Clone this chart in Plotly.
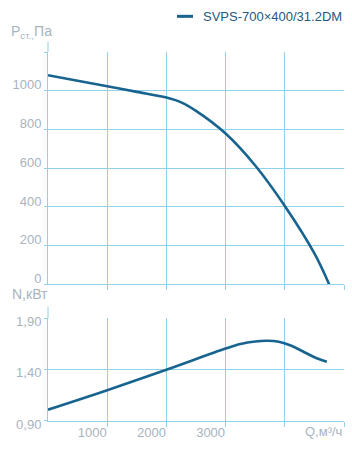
import plotly.graph_objects as go

# ---- data ----
series_name = "SVPS-700×400/31.2DM"
q_pressure = [0, 500, 1000, 1500, 2000, 2250, 2500, 3000, 3500, 4000, 4500, 4750]
p_static = [1080, 1052, 1023, 994, 965, 940, 896, 779, 614, 405, 160, 0]

q_power = [0, 1000, 2000, 3000, 3250, 3500, 3700, 3900, 4100, 4300, 4500, 4710]
n_power = [1.01, 1.20, 1.40, 1.606, 1.650, 1.675, 1.682, 1.672, 1.636, 1.58, 1.522, 1.477]

p_ticks = [0, 200, 400, 600, 800, 1000]
p_ticktext = ["0", "200", "400", "600", "800", "1000"]
p_extra_grid = [1200]
n_ticks = [0.9, 1.4, 1.9]
n_ticktext = ["0,90", "1,40", "1,90"]
q_ticks = [1000, 2000, 3000]
q_ticktext = ["1000", "2000", "3000"]
q_extra_grid = [4000, 5000]
q_axis_title = "Q,м³/ч"

# ---- style ----
FONT = "Liberation Sans"
GRID = "#8fd0ea"
TICKC = "#a7b4c0"
CURVE = "#18648f"
LEGTXT = "#245a80"

fig = go.Figure()
fig.add_trace(go.Scatter(x=q_pressure, y=p_static, mode="lines",
                         line=dict(color=CURVE, width=2.6, shape="spline", smoothing=1.0),
                         name=series_name, xaxis="x", yaxis="y", showlegend=False))
fig.add_trace(go.Scatter(x=q_power, y=n_power, mode="lines",
                         line=dict(color=CURVE, width=2.6, shape="spline", smoothing=1.0),
                         name=series_name, xaxis="x2", yaxis="y2", showlegend=False))

top_dom = [0.3701, 1.0]
bot_dom = [0.0, 0.278]

xcommon = dict(range=[0, 5000], showgrid=True, gridcolor=GRID, gridwidth=1,
               showline=True, linecolor=GRID, linewidth=1, ticks="outside", ticklen=5, tickcolor=GRID,
               zeroline=False, fixedrange=True,
               minor=dict(tickvals=q_extra_grid, showgrid=True, gridcolor=GRID, gridwidth=1,
                          ticks="outside", ticklen=5, tickcolor=GRID))
ycommon = dict(showgrid=True, gridcolor=GRID, gridwidth=1, showline=True, linecolor=GRID, linewidth=1,
               ticks="outside", ticklen=3, tickcolor=GRID, zeroline=False, fixedrange=True,
               tickfont=dict(family=FONT, size=13, color=TICKC))

fig.update_layout(
    width=352, height=451,
    margin=dict(l=48, r=8, t=52, b=30, pad=0),
    paper_bgcolor="white", plot_bgcolor="white",
    font=dict(family=FONT, size=13, color=TICKC),
    xaxis=dict(xcommon, anchor="y", tickvals=[1000, 2000, 3000], showticklabels=False),
    yaxis=dict(ycommon, domain=top_dom, range=[0, 1200], tickvals=p_ticks, ticktext=p_ticktext,
               anchor="x", ticklabelshift=-6,
               minor=dict(tickvals=p_extra_grid, showgrid=True, gridcolor=GRID, gridwidth=1,
                          ticks="outside", ticklen=3, tickcolor=GRID)),
    xaxis2=dict(xcommon, anchor="y2", tickvals=q_ticks, ticktext=q_ticktext, ticklabelshift=-15,
                ticklabelstandoff=-6,
                tickfont=dict(family=FONT, size=13, color=TICKC)),
    yaxis2=dict(ycommon, domain=bot_dom, range=[0.9, 1.9], tickvals=n_ticks, ticktext=n_ticktext,
                anchor="x2", ticklabelshift=3),
    shapes=[
        dict(type="line", xref="x domain", yref="y domain", x0=0, x1=0, y0=1, y1=1 + 10.3 / 232.6,
             line=dict(color=GRID, width=1)),
        dict(type="line", xref="x2 domain", yref="y2 domain", x0=0, x1=0, y0=1, y1=1 + 11.6 / 102.7,
             line=dict(color=GRID, width=1)),
        # legend sample line
        dict(type="line", xref="paper", yref="paper", x0=(177 - 48) / 296, x1=(193 - 48) / 296,
             y0=(421 - 16) / 369.3, y1=(421 - 16) / 369.3,
             line=dict(color=CURVE, width=3)),
    ],
    annotations=[
        dict(text=series_name, xref="paper", yref="paper", x=(201 - 48) / 296, y=(421 - 16) / 369.3,
             xanchor="left", yanchor="middle", showarrow=False,
             font=dict(family=FONT, size=13, color=LEGTXT)),
        dict(text="P<sub>ст.,</sub>Па", xref="paper", yref="paper", x=(9 - 48) / 296, y=(421 - 32) / 369.3,
             xanchor="left", yanchor="middle", showarrow=False,
             font=dict(family=FONT, size=14, color=TICKC)),
        dict(text="N,кВт", xref="paper", yref="paper", x=(10 - 48) / 296, y=(421 - 294) / 369.3,
             xanchor="left", yanchor="middle", showarrow=False,
             font=dict(family=FONT, size=14, color=TICKC)),
        dict(text=q_axis_title, xref="paper", yref="paper", x=1.0, y=(421 - 432) / 369.3,
             xanchor="right", yanchor="middle", showarrow=False,
             font=dict(family=FONT, size=13, color=TICKC)),
    ],
)

fig.write_html("out.html")
